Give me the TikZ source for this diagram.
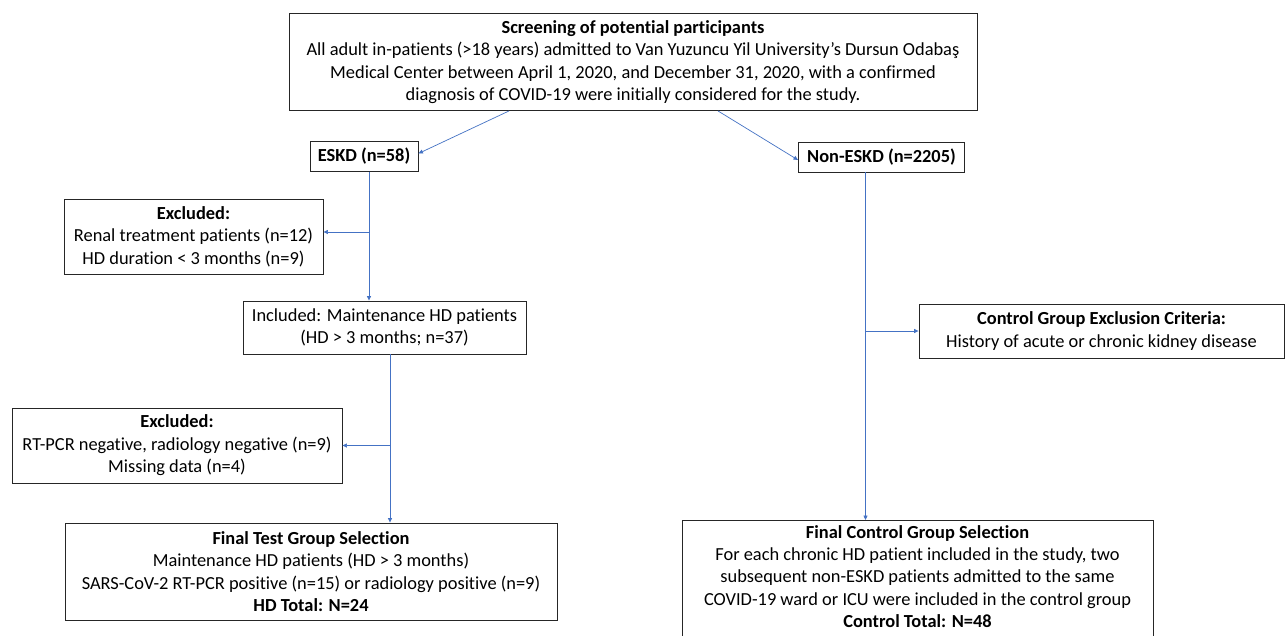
\documentclass[tikz,border=0pt]{standalone}
\usepackage{fontspec}
\setmainfont{Carlito}[Ligatures={NoCommon}]
\usetikzlibrary{arrows.meta}
\definecolor{arrowblue}{RGB}{68,114,196}
\begin{document}
\begin{tikzpicture}[x=1pt,y=-1pt,
  box/.style={draw=black!85, line width=0.9pt, inner sep=0pt, align=center,
    font=\fontsize{18.4}{22.4}\selectfont},
  conn/.style={draw=arrowblue, line width=0.7pt},
  arr/.style={conn, -{Triangle[length=4.5pt,width=4pt]}}]
\useasboundingbox (0,0) rectangle (1285,635);
\clip (0,0) rectangle (1285,635);
\fill[white] (0,0) rectangle (1285,635);

\node[box, minimum width=688pt, minimum height=97pt] (screen) at (633,62)
 {\textbf{Screening of potential participants}\\
  All adult in-patients (>18 years) admitted to Van Yuzuncu Yil University's Dursun Odabaş\\
  Medical Center between April 1, 2020, and December 31, 2020, with a confirmed\\
  diagnosis of COVID-19 were initially considered for the study.};

\node[box, minimum width=108pt, minimum height=30pt] (eskd) at (364,156.5) {\textbf{ESKD (n=58)}};
\node[box, minimum width=166pt, minimum height=30pt] (nonesk) at (881.5,157) {\textbf{Non-ESKD (n=2205)}};

\node[box, minimum width=259pt, minimum height=75pt] (excl1) at (193.5,236.5)
 {\textbf{Excluded:}\\Renal treatment patients (n=12)\\HD duration < 3 months (n=9)};

\node[box, minimum width=283pt, minimum height=53pt] (incl) at (384.5,327.5)
 {Included: Maintenance HD patients\\(HD > 3 months; n=37)};

\node[box, minimum width=330pt, minimum height=75pt] (excl2) at (177,445.5)
 {\textbf{Excluded:}\\RT-PCR negative, radiology negative (n=9)\\Missing data (n=4)};

\node[box, minimum width=492pt, minimum height=97pt] (final) at (311,571.5)
 {\textbf{Final Test Group Selection}\\
  Maintenance HD patients (HD > 3 months)\\
  SARS-CoV-2 RT-PCR positive (n=15) or radiology positive (n=9)\\
  \textbf{HD Total: N=24}};

\node[box, minimum width=365pt, minimum height=54pt] (cexcl) at (1101.5,331)
 {\textbf{Control Group Exclusion Criteria:}\\History of acute or chronic kidney disease};

\node[box, minimum width=471pt, minimum height=130pt, anchor=north] (ctrl) at (917.5,520) {};
\node[align=center, inner sep=0pt, font=\fontsize{18.4}{22.4}\selectfont, anchor=north] (ctrltxt)
 at ([yshift=-5pt]ctrl.north)
 {\textbf{Final Control Group Selection}\\
  For each chronic HD patient included in the study, two\\
  subsequent non-ESKD patients admitted to the same\\
  COVID-19 ward or ICU were included in the control group\\
  \textbf{Control Total: N=48}};

% connectors
\draw[arr] ([xshift=-124pt]screen.south) -- ([yshift=3pt]eskd.east);
\draw[arr] ([xshift=85pt]screen.south) -- ([yshift=-3pt]nonesk.west);

\coordinate (e1) at ([yshift=4.5pt]excl1.east);
\coordinate (b1) at ([xshift=5pt]eskd.south |- e1);
\draw[arr] ([xshift=5pt]eskd.south) -- ([xshift=5pt]eskd.south |- incl.north);
\draw[arr] (b1) -- (e1);

\coordinate (b2) at ([xshift=5.5pt]incl.south |- excl2.east);
\draw[arr] ([xshift=5.5pt]incl.south) -- ([xshift=5.5pt]incl.south |- final.north);
\draw[arr] (b2) -- (excl2.east);

\coordinate (b3) at ([xshift=-16pt]nonesk.south |- cexcl.west);
\draw[arr] ([xshift=-16pt]nonesk.south) -- ([xshift=-16pt]nonesk.south |- ctrl.north);
\draw[arr] (b3) -- (cexcl.west);
\end{tikzpicture}
\end{document}
